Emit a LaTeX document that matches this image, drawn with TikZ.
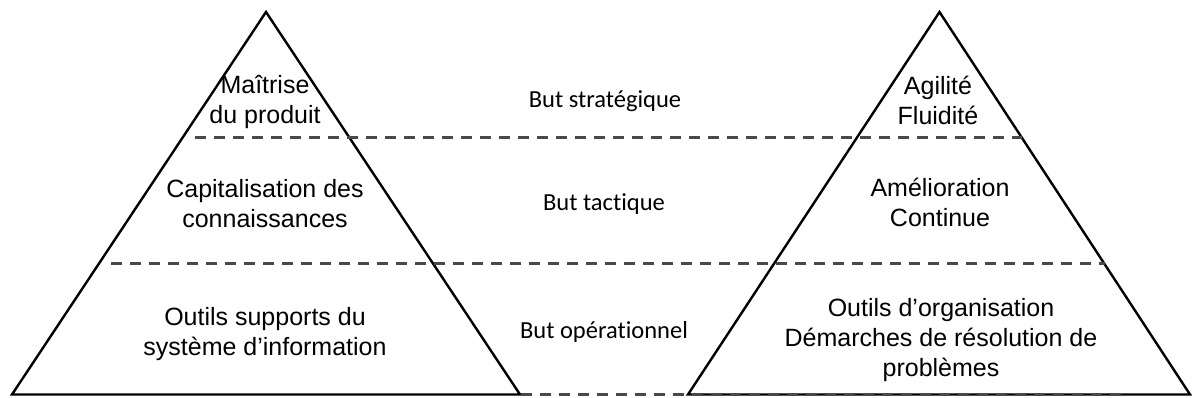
\documentclass[tikz,border=0pt]{standalone}
\usepackage{fontspec}
\newfontfamily\arialf{Liberation Sans}
\newfontfamily\calibrif[Ligatures=NoCommon]{Carlito}
\definecolor{dashgray}{HTML}{494949}
\begin{document}
\begin{tikzpicture}[x=1pt,y=-1pt,
  tri/.style={draw=black, line width=2.4pt},
  level/.style={draw=dashgray, line width=3pt, dash pattern=on 11pt off 8pt},
  lbl/.style={font=\arialf\fontsize{25}{30}\selectfont, align=center, inner sep=0pt},
  goal/.style={font=\calibrif\fontsize{24.5}{29}\selectfont, inner sep=0pt}]
\useasboundingbox (0,0) rectangle (1192,398);
% triangles
\coordinate (LA) at (266,12);
\coordinate (LL) at (12,394.5);
\coordinate (LR) at (520,394.5);
\coordinate (RA) at (939.5,12);
\coordinate (RL) at (688,394.5);
\coordinate (RR) at (1190,394.5);
\draw[tri] (LA) -- (LL) -- (LR) -- cycle;
\draw[tri] (RA) -- (RL) -- (RR) -- cycle;
% level lines
\coordinate (d1a) at (195,138);  \coordinate (d1b) at (1022,138);
\coordinate (d2a) at (111,264);  \coordinate (d2b) at (1105,264);
\coordinate (d3a) at (521,394.5); \coordinate (d3b) at (1123,394.5);
\draw[level] (d1a) -- (d1b);
\draw[level] (d2a) -- (d2b);
\draw[level] (d3a) -- (d3b);
% left pyramid texts
\node[lbl] (l1) at (265,102) {Maîtrise\\du produit};
\node[lbl] (l2) at (265,203.5) {Capitalisation des\\connaissances};
\node[lbl] (l3) at (265,334.5) {Outils supports du\\système d’information};
% right pyramid texts
\node[lbl] (r1) at (938,100) {Agilité\\Fluidité};
\node[lbl] (r2) at (940,202) {Amélioration\\Continue};
\node[lbl] (r3) at (941,340) {Outils d’organisation\\Démarches de résolution de\\problèmes};
% middle goals
\node[goal] (g1) at (605,101) {But stratégique};
\node[goal] (g2) at (604,204) {But tactique};
\node[goal] (g3) at (604,332) {But opérationnel};
\end{tikzpicture}
\end{document}
